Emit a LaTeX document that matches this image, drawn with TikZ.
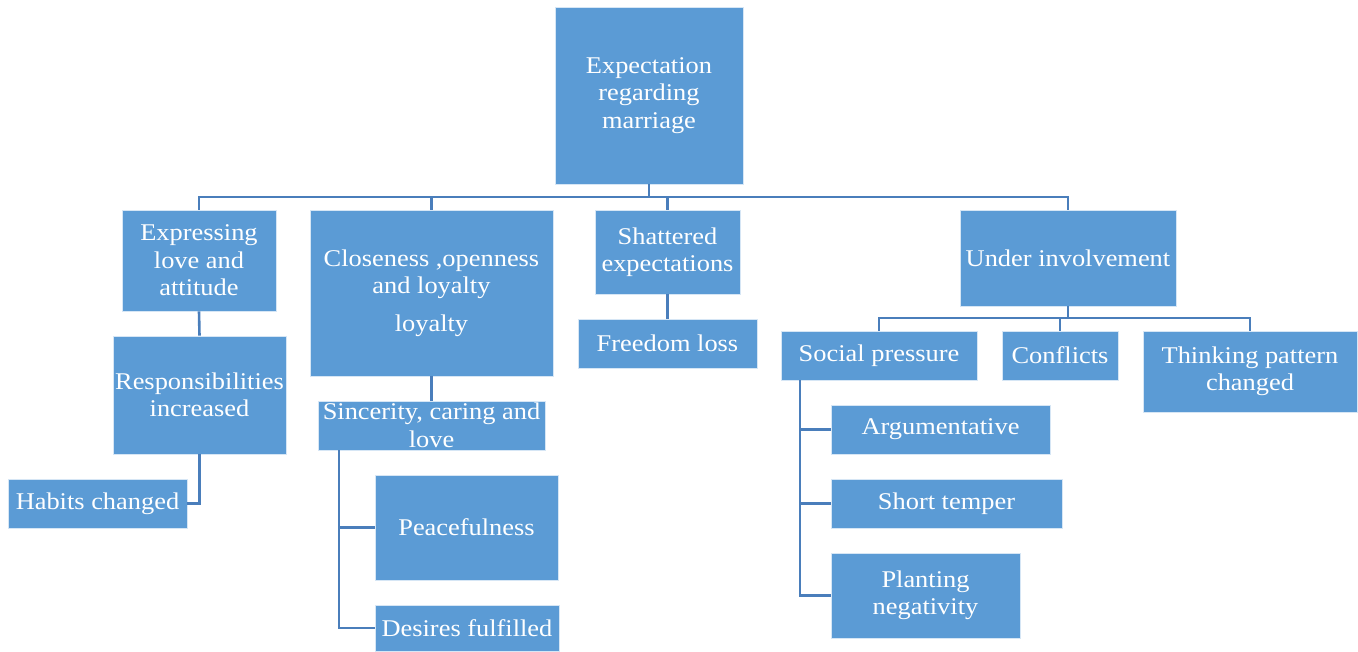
\documentclass[tikz,border=0pt]{standalone}
\usepackage{fontspec}
\setmainfont{Liberation Serif}[FakeStretch=1.1]
\definecolor{boxblue}{HTML}{5B9BD5}
\definecolor{boxedge}{HTML}{D6E6F5}
\definecolor{linkblue}{HTML}{4A7EBB}
\begin{document}
\begin{tikzpicture}[x=1pt,y=-1pt,
  box/.style={rectangle, fill=boxblue, draw=boxedge, line width=0.8pt, text=white,
    align=center, inner sep=0pt, font={\fontsize{24}{27.5}\selectfont}},
  link/.style={draw=linkblue, line width=2.6pt}]
\useasboundingbox (0,0) rectangle (1358,652);
% nodes
\node[box, minimum width=188pt, minimum height=177pt] (root) at (649,95.5) {Expectation\\regarding\\marriage};
\node[box, minimum width=154pt, minimum height=101pt] (expr) at (199,260.5) {Expressing\\love and\\attitude};
\node[box, minimum width=173pt, minimum height=118pt] (resp) at (199.5,395) {Responsibilities\\increased};
\node[box, minimum width=179pt, minimum height=49pt] (habit) at (97.5,503.5) {Habits changed};
\node[box, minimum width=243pt, minimum height=166pt] (close) at (431.5,293) {Closeness ,openness\\and loyalty\\[10pt]loyalty};
\node[box, minimum width=227pt, minimum height=49pt] (sinc) at (431.5,425.5) {Sincerity, caring and\\love};
\node[box, minimum width=183pt, minimum height=105pt] (peace) at (466.5,527.5) {Peacefulness};
\node[box, minimum width=184pt, minimum height=46pt] (desire) at (467,628) {Desires fulfilled};
\node[box, minimum width=145pt, minimum height=84pt] (shat) at (667.5,252) {Shattered\\expectations};
\node[box, minimum width=179pt, minimum height=49pt] (free) at (667.5,343.5) {Freedom loss};
\node[box, minimum width=216pt, minimum height=96pt] (under) at (1068,258) {Under involvement};
\node[box, minimum width=196pt, minimum height=49pt] (social) at (879,355.5) {Social pressure};
\node[box, minimum width=116pt, minimum height=49pt] (confl) at (1060,355.5) {Conflicts};
\node[box, minimum width=214pt, minimum height=81pt] (think) at (1250,371.5) {Thinking pattern\\changed};
\node[box, minimum width=219pt, minimum height=49pt] (argu) at (940.5,429.5) {Argumentative};
\node[box, minimum width=231pt, minimum height=49pt] (short) at (946.5,503.5) {Short temper};
\node[box, minimum width=189pt, minimum height=85pt] (plant) at (925.5,595.5) {Planting\\negativity};
% helper coordinates
\coordinate (bus) at (0,197);
\coordinate (busb) at (0,318);
\coordinate (sx) at (339,0);
\coordinate (px) at (800,0);
% connectors
\draw[link] (root.south) -- (root.south |- bus);
\draw[link] (expr.north) -- (expr.north |- bus) -- (under.north |- bus) -- (under.north);
\draw[link] (close.north) -- (close.north |- bus);
\draw[link] (shat.north) -- (shat.north |- bus);
\draw[link] (expr.south) -- (resp.north);
\draw[link] (resp.south) |- (habit.east);
\draw[link] (close.south) -- (sinc.north);
\draw[link] (sinc.south -| sx) |- (peace.west);
\draw[link] (sinc.south -| sx) |- (desire.west);
\draw[link] (shat.south) -- (free.north);
\draw[link] (under.south) -- (under.south |- busb);
\draw[link] (social.north) -- (social.north |- busb) -| (think.north);
\draw[link] (confl.north) -- (confl.north |- busb);
\draw[link] (social.south -| px) |- (argu.west);
\draw[link] (social.south -| px) |- (short.west);
\draw[link] (social.south -| px) |- (plant.west);
\end{tikzpicture}
\end{document}
